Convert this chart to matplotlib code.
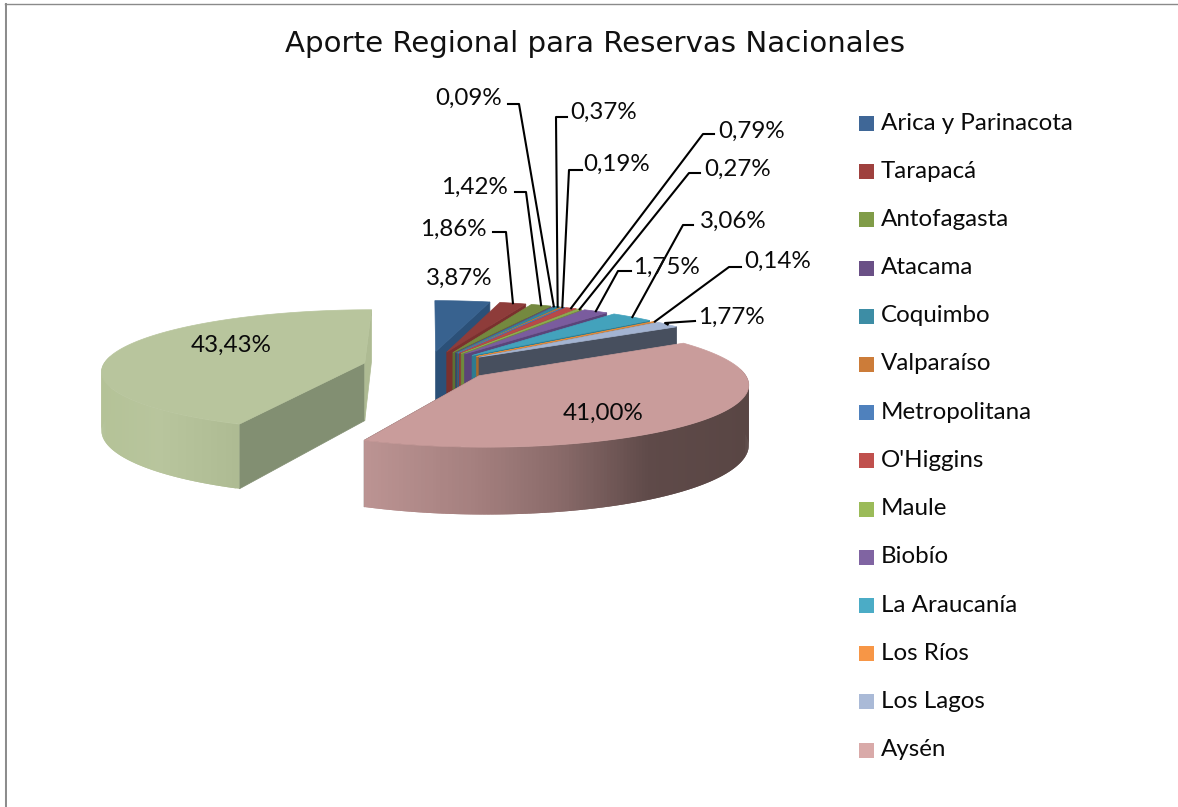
"""Aporte regional para reservas nacionales, exploded 3D pie."""

import numpy as np
import matplotlib

matplotlib.use("Agg")
import matplotlib.pyplot as plt
from matplotlib.patches import Polygon, Rectangle

TITLE = "Aporte Regional para Reservas Nacionales"
REGIONS = [
    "Arica y Parinacota", "Tarapacá", "Antofagasta", "Atacama", "Coquimbo",
    "Valparaíso", "Metropolitana", "O'Higgins", "Maule", "Biobío",
    "La Araucanía", "Los Ríos", "Los Lagos", "Aysén", "Magallanes",
]
SHARES = [3.87, 1.86, 1.42, 0.09, 0.37, 0.19, 0.04, 0.79, 0.27, 1.75, 3.06, 0.14, 1.77, 41.00, 43.43]
SHARE_LABELS = ["3,87%", "1,86%", "1,42%", "0,09%", "0,37%", "0,19%", None, "0,79%", "0,27%",
                "1,75%", "3,06%", "0,14%", "1,77%", "41,00%", "43,43%"]
LEGEND_COLORS = ["#3F6797", "#9F413E", "#809C48", "#6A5086", "#3D8DA5", "#CC7C39", "#4F81BD",
                 "#C0504D", "#9BBB59", "#8064A2", "#4BACC6", "#F79646", "#AABAD7", "#D9AAA9"]
TOP_COLORS = ["#38628F", "#8E3C3A", "#74893F", "#604A7B", "#31859C", "#C27A35", "#4577B0",
              "#B84A48", "#8FAD50", "#7A5C9E", "#43A2BC", "#E08A3C", "#A3B4D2", "#C99C9B", "#B8C59D"]
CUT_COLORS = ["#2B5078", "#7A302E", "#5E7233", "#4B3A62", "#205E70", "#8A5525", "#335A88",
              "#8E3836", "#6F8A3E", "#5A4479", "#2E7C90", "#A86A2D", "#474F5E", "#5A4644", "#828F72"]
# rim shading: (x pixel, colour) stops for the two big slices
AYSEN_RIM = [(365, "#BC9493"), (480, "#A47F7E"), (560, "#8A6B6A"), (650, "#5F4A49"), (745, "#594644")]
MAG_RIM = [(100, "#B4C297"), (160, "#B8C59D"), (240, "#AEBB93")]

# label text centre and leader path (pixels) per slice
LABEL_POS = [(459, 278), (453, 229), (474, 187), (469, 98), (604, 112), (617, 164), None, (752, 131),
             (738, 169), (666, 267), (733, 221), (778, 261), (731, 317), (603, 413), (231, 345)]
LEADERS = [None, (493, 232, 506, 232), (515, 192, 526, 192), (508, 104, 519, 104), (567, 117, 556, 117),
           (582, 170, 569, 170), None, (714, 134, 703, 134), (700, 173, 689, 173), (631, 271, 618, 271),
           (693, 225, 683, 225), (741, 267, 729, 267), (695, 321, 665, 323), None, None]

CX, CY = 428, 366
RADIUS = 262
EXPLODE = 65
TILT = 0.23
DEPTH = 58
PERSP = 0.12


def project(x, y, z=0.0):
    s = 1 / (1 + PERSP * y / RADIUS)
    return CX + x * s, CY - TILT * y * s + z * s


def slice_geom(start, end):
    mid = (start + end) / 2
    ox, oy = EXPLODE * np.sin(mid), EXPLODE * np.cos(mid)
    ang = np.linspace(start, end, max(int((end - start) * 80), 3))
    return ox, oy, ang


def face(ax, pts, color, zorder, lw=0.5):
    ax.add_patch(Polygon(pts, closed=True, fc=color, ec=color if lw else "none", lw=lw, zorder=zorder))


def rim_color(x, stops):
    xs = [s[0] for s in stops]
    rgb = np.array([matplotlib.colors.to_rgb(s[1]) for s in stops])
    return [np.interp(x, xs, rgb[:, i]) for i in range(3)]


fig = plt.figure(figsize=(11.78, 8.07), dpi=100)
ax = fig.add_axes([0, 0, 1, 1])
ax.set_xlim(0, 1178)
ax.set_ylim(807, 0)
ax.axis("off")

# chart frame
ax.plot([4.5, 4.5], [807, 3], color="#DADADA", lw=0.8)
ax.plot([6, 6], [807, 3.7], color="#8A8A8A", lw=1.4)
ax.plot([5, 1178], [3.7, 3.7], color="#8A8A8A", lw=1.0)

ax.text(595, 44, TITLE, family="DejaVu Sans", fontsize=21.1, ha="center", va="center", color="#111111")

bounds = np.cumsum([0] + SHARES) / sum(SHARES) * 2 * np.pi
for i in range(len(SHARES)):
    start, end = bounds[i], bounds[i + 1]
    ox, oy, ang = slice_geom(start, end)
    z = 10 + i
    apex = project(ox, oy)
    apex_low = project(ox, oy, DEPTH)
    xs = ox + RADIUS * np.sin(ang)
    ys = oy + RADIUS * np.cos(ang)
    # cut faces, the far one is only a sliver
    if end < np.pi * 1.5:
        face(ax, [apex, project(xs[-1], ys[-1]), project(xs[-1], ys[-1], DEPTH), apex_low], CUT_COLORS[i], z)
    if start > np.pi:
        face(ax, [apex, project(xs[0], ys[0]), project(xs[0], ys[0], DEPTH), apex_low], CUT_COLORS[i], z)
        face(ax, [apex, project(xs[-1], ys[-1]), project(xs[-1], ys[-1], DEPTH), apex_low], "#AEBB93", z)
    # rim on the near side, quads overlap by one step to hide seams
    front = np.cos(ang) < 0.12
    if i >= 13:
        stops = AYSEN_RIM if i == 13 else MAG_RIM
        fx, fy = xs[front], ys[front]
        for j in range(len(fx) - 1):
            k = min(j + 2, len(fx) - 1)
            p0, p1 = project(fx[j], fy[j]), project(fx[k], fy[k])
            q1, q0 = project(fx[k], fy[k], DEPTH), project(fx[j], fy[j], DEPTH)
            face(ax, [p0, p1, q1, q0], rim_color(p0[0], stops), z, lw=0)
    top = [apex] + [project(a, b) for a, b in zip(xs, ys)]
    face(ax, top, TOP_COLORS[i], z + 0.5)

FONT = ["Lato", "DejaVu Sans"]
for i, lab in enumerate(SHARE_LABELS):
    if lab is None:
        continue
    ax.text(*LABEL_POS[i], lab, family=FONT, fontsize=17.4, ha="center", va="center", color="#0A0A0A", zorder=40)
    if LEADERS[i] is not None:
        start, end = bounds[i], bounds[i + 1]
        mid = (start + end) / 2
        ox, oy, _ = slice_geom(start, end)
        tx, ty = project(ox + RADIUS * np.sin(mid), oy + RADIUS * np.cos(mid))
        lx0, ly0, lx1, ly1 = LEADERS[i]
        ax.plot([lx0, lx1, tx], [ly0, ly1, ty], color="black", lw=1.5, zorder=39)

for i, name in enumerate(REGIONS[:14]):
    y = 123.5 + i * 48.2
    ax.add_patch(Rectangle((859, y - 7.5), 15, 15, fc=LEGEND_COLORS[i], ec="none"))
    ax.text(881, y - 0.5, name, family=FONT, fontsize=17.4, ha="left", va="center", color="#0A0A0A")

fig.savefig("out.png", dpi=100)
